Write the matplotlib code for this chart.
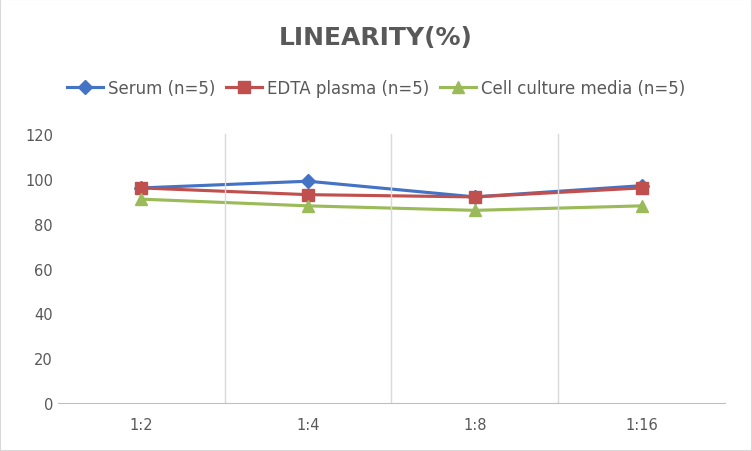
import matplotlib.pyplot as plt
from matplotlib.patches import Rectangle

categories = ["1:2", "1:4", "1:8", "1:16"]
serum = [96, 99, 92, 97]
edta = [96, 93, 92, 96]
cell = [91, 88, 86, 88]

fig = plt.figure(figsize=(7.52, 4.52), dpi=100)
ax = fig.add_axes([0.077, 0.106, 0.887, 0.595])
x = list(range(1, len(categories) + 1))

ax.plot(x, serum, color="#4472C4", marker="D", markersize=7, linewidth=2.25, label="Serum (n=5)")
ax.plot(x, edta, color="#C0504D", marker="s", markersize=8, linewidth=2.25, label="EDTA plasma (n=5)")
ax.plot(x, cell, color="#9BBB59", marker="^", markersize=8, linewidth=2.25, label="Cell culture media (n=5)")

ax.set_xlim(0.5, 4.5)
ax.set_ylim(0, 120)
ax.set_yticks(range(0, 121, 20))
ax.set_xticks(x)
ax.set_xticklabels(categories)
for b in [1.5, 2.5, 3.5]:
    ax.axvline(b, color="#D9D9D9", linewidth=1)
for s in ["top", "right", "left"]:
    ax.spines[s].set_visible(False)
ax.spines["bottom"].set_color("#BFBFBF")
ax.tick_params(length=0, labelsize=10.5, colors="#595959")
ax.tick_params(axis="x", pad=10)

fig.text(0.5, 0.916, "LINEARITY(%)", ha="center", va="center", fontsize=18,
         fontweight="bold", color="#595959")
fig.legend(loc="center", bbox_to_anchor=(0.5, 0.803), ncol=3, frameon=False,
           fontsize=12, handlelength=2.2, columnspacing=0.6, handletextpad=0.3,
           labelcolor="#595959")
fig.patches.append(Rectangle((0, 0), 1, 1, transform=fig.transFigure, fill=False,
                             edgecolor="#D9D9D9", linewidth=1.5))
fig.savefig("out.png", dpi=100)
